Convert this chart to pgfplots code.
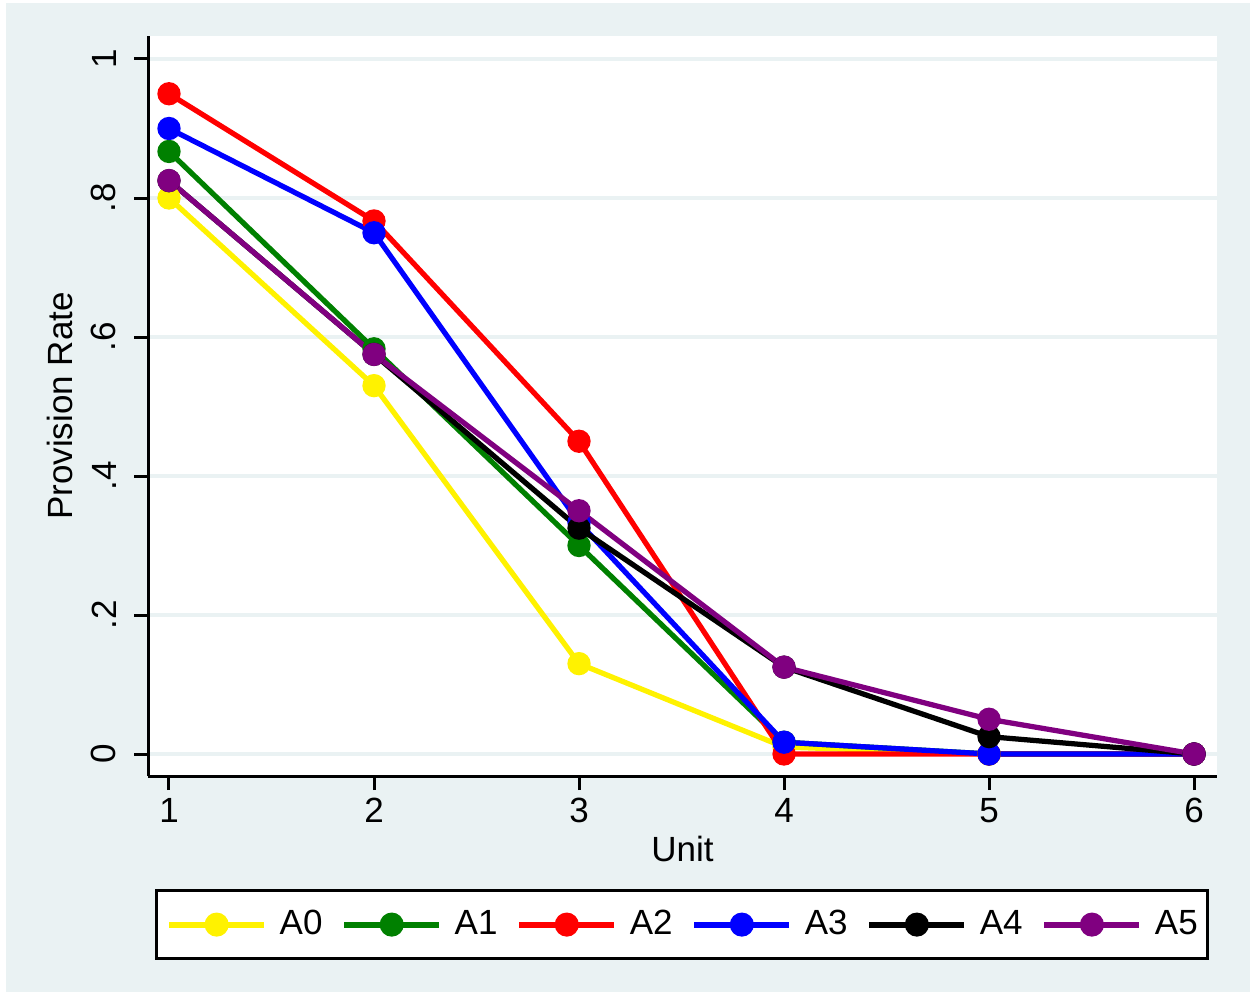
\documentclass[border=0pt]{standalone}
\usepackage{pgfplots}
\pgfplotsset{compat=1.18}
\usepackage{fontspec}
\setmainfont{Liberation Sans}
\definecolor{bgc}{RGB}{234,242,243}
\definecolor{sgreen}{RGB}{0,128,0}
\definecolor{spurple}{RGB}{128,0,128}
\newcommand{\fs}{\fontsize{14}{17}\selectfont}
\begin{document}
\begin{tikzpicture}
\fill[white] (0pt,0pt) rectangle (500pt,396.8pt);
\fill[bgc] (2.4pt,0pt) rectangle (500pt,395.6pt);
\begin{axis}[
  at={(59.2pt,86.4pt)}, anchor=south west,
  scale only axis, width=427.6pt, height=296pt,
  xmin=0.8976, xmax=6.112, ymin=-0.03165, ymax=1.0331,
  axis background/.style={fill=white},
  axis x line*=bottom, axis y line*=left,
  axis line style={line width=1.2pt, black, -},
  tick align=outside, major tick length=5.6pt,
  tick style={line width=1.2pt, black},
  xtick={1,2,3,4,5,6}, xticklabels={1,2,3,4,5,6},
  ytick={0,0.2,0.4,0.6,0.8,1}, yticklabels={0,.2,.4,.6,.8,1},
  minor tick num=0,
  ymajorgrids, major grid style={color=bgc, line width=1.6pt},
  every tick label/.append style={font=\fs},
  xticklabel style={anchor=north, inner sep=0pt},
  yticklabel style={rotate=90, anchor=south, inner sep=0pt},
  xticklabel shift=3pt, yticklabel shift=7pt,
  xlabel={Unit}, ylabel={Provision Rate},
  every axis x label/.style={at={(axis description cs:0.5,-0.0804)}, anchor=north, inner sep=0pt, font=\fs},
  every axis y label/.style={at={(axis description cs:-0.0702,0.5)}, rotate=90, anchor=south, inner sep=0pt, font=\fs},
  every axis plot/.append style={line width=2.1pt, mark=*, mark size=3.6pt},
  legend columns=6,
  legend image code/.code={\draw[mark repeat=2, mark phase=2, #1, line width=2.4pt] plot coordinates {(0pt,0pt) (19pt,0pt) (38pt,0pt)};},
  legend style={at={(axis description cs:0.4995,-0.1527)}, anchor=north, draw=black, line width=1.2pt, fill=white,
    inner xsep=4pt, inner ysep=8pt, font=\fs,
    nodes={inner sep=0pt},
    /tikz/every odd column/.append style={column sep=5pt},
    /tikz/every even column/.append style={column sep=7.5pt}},
  clip=false,
]
\addplot[yellow, mark options={fill=yellow, draw=yellow}] coordinates {(1,0.80) (2,0.53) (3,0.13) (4,0.01) (5,0) (6,0)};
\addlegendentry{A0}
\addplot[sgreen, mark options={fill=sgreen, draw=sgreen}] coordinates {(1,0.867) (2,0.583) (3,0.30) (4,0.017) (5,0) (6,0)};
\addlegendentry{A1}
\addplot[red, mark options={fill=red, draw=red}] coordinates {(1,0.95) (2,0.767) (3,0.45) (4,0) (5,0) (6,0)};
\addlegendentry{A2}
\addplot[blue, mark options={fill=blue, draw=blue}] coordinates {(1,0.90) (2,0.75) (3,0.333) (4,0.017) (5,0) (6,0)};
\addlegendentry{A3}
\addplot[black, mark options={fill=black, draw=black}] coordinates {(1,0.825) (2,0.575) (3,0.325) (4,0.125) (5,0.025) (6,0)};
\addlegendentry{A4}
\addplot[spurple, mark options={fill=spurple, draw=spurple}] coordinates {(1,0.825) (2,0.575) (3,0.35) (4,0.125) (5,0.05) (6,0)};
\addlegendentry{A5}
\end{axis}
\end{tikzpicture}
\end{document}
